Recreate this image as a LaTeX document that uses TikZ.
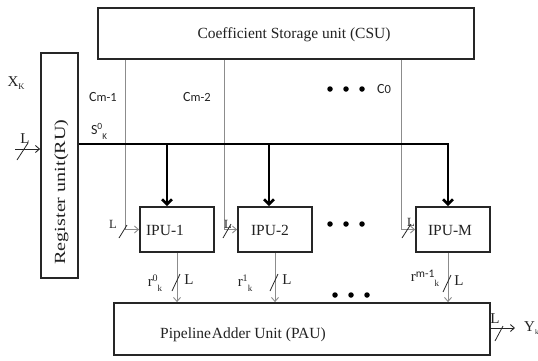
\documentclass[tikz,border=0pt]{standalone}
\usepackage{fontspec}
\setmainfont{Liberation Serif}
\newfontfamily\labfont{Carlito}
\usetikzlibrary{arrows.meta,calc}
\definecolor{boxc}{HTML}{262626}
\definecolor{wirec}{HTML}{8C8C8C}
\definecolor{txtc}{HTML}{222222}
\begin{document}
\begin{tikzpicture}[x=1pt,y=-1pt,
  every node/.style={text=txtc, inner sep=0pt},
  unitbox/.style={draw=boxc, line width=1.8pt, fill=white},
  big/.style={font=\fontsize{15.5}{18}\selectfont},
  mid/.style={font=\fontsize{15}{17}\selectfont},
  inl/.style={font=\fontsize{12.5}{14}\selectfont},
  sml/.style={font=\labfont\fontsize{14}{16}\selectfont},
  wire/.style={draw=wirec, line width=0.9pt},
  wirearrow/.style={wire, -{Straight Barb[length=4pt,width=7pt]}},
  slash/.style={draw=boxc, line width=0.8pt},
  bus/.style={draw=black, line width=2.6pt},
  busarrow/.style={bus, -{Straight Barb[length=5pt,width=10pt]}},
  dotmark/.style={circle, fill=black, minimum size=5.5pt}]
\useasboundingbox (0,0) rectangle (538,360);

% functional blocks
\node[unitbox, minimum width=376pt, minimum height=51pt] (csu) at (286,33.5) {};
\node[unitbox, minimum width=37pt, minimum height=225pt] (ru) at (59.5,165.5) {};
\node[unitbox, minimum width=74pt, minimum height=45pt] (ipu1) at (177,229.5) {};
\node[unitbox, minimum width=74pt, minimum height=45pt] (ipu2) at (275,229.5) {};
\node[unitbox, minimum width=74pt, minimum height=45pt] (ipuM) at (453,229.5) {};
\node[unitbox, minimum width=376pt, minimum height=52pt] (pau) at (302,329) {};

% block titles
\node[big] (csutxt) at (294,35) {Coefficient Storage unit (CSU)};
\node[big] (pautxt) at (243,335) {Pipeline\kern0.8pt Adder Unit (PAU)};
\node[big, rotate=90] (rutxt) at (61.5,192) {\scalebox{1.3}[1]{Register unit(RU)}};
\node[big] (ipu1txt) at (165,230) {IPU-1};
\node[big] (ipu2txt) at (270,230) {IPU-2};
\node[big] (ipuMtxt) at (450,230) {IPU-M};

% coefficient lines from the storage unit
\coordinate (c1) at (125,0);
\coordinate (c2) at (224,0);
\coordinate (c3) at (401,0);
\draw[wirearrow] (csu.south -| c1) |- (ipu1.west);
\draw[wirearrow] (csu.south -| c2) |- (ipu2.west);
\draw[wirearrow] (csu.south -| c3) |- (ipuM.west);
\draw[slash] (119,238) -- (127,225);
\draw[slash] (223,238) -- (231,224);
\draw[slash] (402,238) -- (411,224);
\node[inl] (l1) at (113,224) {L};
\node[inl] (l2) at (228,224) {L};
\node[inl] (l3) at (411,222) {L};

\node[sml] (cm1) at (103,97) {C\fontsize{12.5}{14}\selectfont m-1};
\node[sml] (cm2) at (197,97) {C\fontsize{12.5}{14}\selectfont m-2};
\node[sml] (c0) at (384,89) {C\fontsize{12.5}{14}\selectfont 0};
\node[dotmark] (d1) at (330,89) {};
\node[dotmark] (d2) at (346,89) {};
\node[dotmark] (d3) at (362,89) {};

% input sample into the register unit
\coordinate (xin) at (15,149);
\draw[wirearrow, draw=boxc] (xin) -- (xin -| ru.west);
\draw[slash] (17,160) -- (28,143);
\node[mid] (lin) at (25,139) {L};
\node[font=\fontsize{15}{17}\selectfont] (xk) at (16,83) {X\raisebox{-2.5pt}{\fontsize{8.5}{9}\selectfont K}};
\node[sml] (s0k) at (99,131) {S\raisebox{5pt}{\fontsize{9.5}{10}\selectfont 0}\raisebox{-5pt}{\fontsize{9}{10}\selectfont K}};

% sample bus to the inner product units
\coordinate (busend) at (448,144);
\coordinate (tap1) at (167,144);
\coordinate (tap2) at (269,144);
\draw[busarrow] (ru.east |- busend) -- (busend) -- (ipuM.north -| busend);
\draw[busarrow] (tap1) -- (ipu1.north -| tap1);
\draw[busarrow] (tap2) -- (ipu2.north -| tap2);

\node[dotmark] (m1) at (330,224) {};
\node[dotmark] (m2) at (346,224) {};
\node[dotmark] (m3) at (362,224) {};

% partial results into the adder unit
\draw[wirearrow] (ipu1.south) -- (ipu1.south |- pau.north);
\draw[wirearrow] (ipu2.south) -- (ipu2.south |- pau.north);
\coordinate (oM) at (448,0);
\draw[wirearrow] (ipuM.south -| oM) -- (pau.north -| oM);
\draw[slash] (172,291) -- (180,274);
\draw[slash] (270,291) -- (278,274);
\draw[slash] (443,292) -- (451,275);
\node[mid] (lo1) at (189,280) {L};
\node[mid] (lo2) at (287,280) {L};
\node[mid] (lo3) at (459,281) {L};
\node[font=\fontsize{15}{17}\selectfont] (r0) at (155,283) {r\raisebox{5pt}{\fontsize{10}{11}\selectfont 0}\raisebox{-4.5pt}{\fontsize{9}{10}\selectfont k}};
\node[font=\fontsize{15}{17}\selectfont] (r1) at (245,283) {r\raisebox{5pt}{\fontsize{10}{11}\selectfont 1}\raisebox{-4.5pt}{\fontsize{9}{10}\selectfont k}};
\node[font=\fontsize{15}{17}\selectfont] (rm) at (425,278) {r\raisebox{4pt}{\labfont\fontsize{11.5}{12}\selectfont m-1}\raisebox{-5pt}{\fontsize{9}{10}\selectfont k}};

\node[dotmark] (b1) at (335,295) {};
\node[dotmark] (b2) at (351,295) {};
\node[dotmark] (b3) at (367,295) {};

% filter output
\coordinate (yout) at (515,328);
\draw[wirearrow, draw=boxc] (pau.east |- yout) -- (yout);
\draw[slash] (495,341) -- (503,326);
\node[mid] (lout) at (495,319) {L};
\node[font=\fontsize{15}{17}\selectfont, anchor=west] (yk) at (524,328) {Y\raisebox{-3pt}{\fontsize{7}{8}\selectfont k}};
\end{tikzpicture}
\end{document}
